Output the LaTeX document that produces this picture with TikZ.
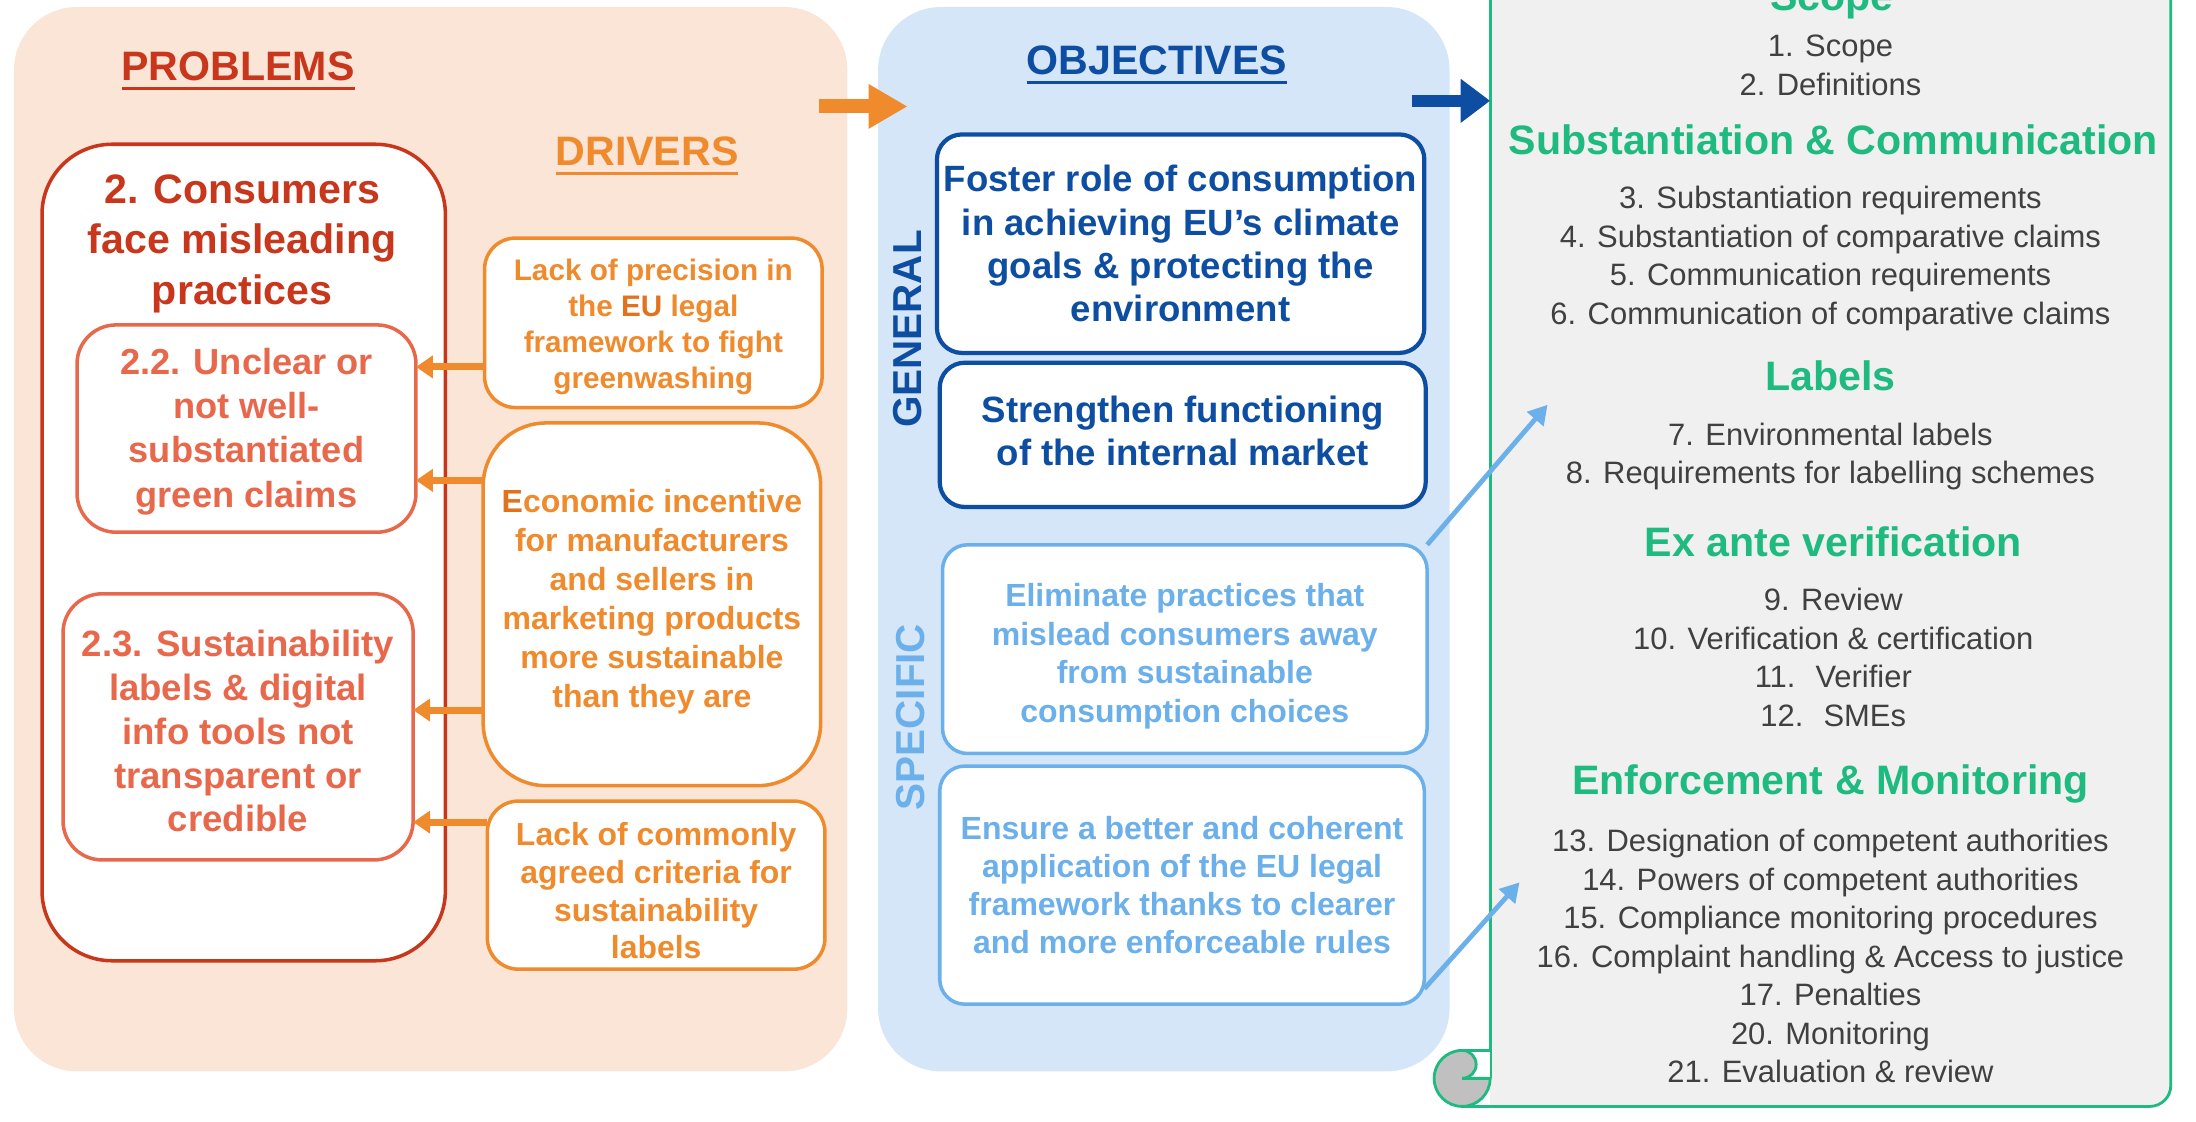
\documentclass[tikz,border=0pt]{standalone}
\usepackage{fontspec}
\setmainfont{Liberation Sans}
\usetikzlibrary{arrows.meta}
\definecolor{peach}{HTML}{FBE5D6}
\definecolor{objbg}{HTML}{D4E6F7}
\definecolor{dred}{HTML}{C8361C}
\definecolor{salmon}{HTML}{E8684C}
\definecolor{orng}{HTML}{EF8B2D}
\definecolor{orngd}{HTML}{E2721C}
\definecolor{dblue}{HTML}{0D4EA3}
\definecolor{lblue}{HTML}{6BB0EB}
\definecolor{grn}{HTML}{1FBA80}
\definecolor{itemgray}{HTML}{404040}
\definecolor{pgray}{HTML}{F0F0F0}
\definecolor{cgray}{HTML}{C0C0C0}
\newcommand{\myul}[1]{\setbox0\hbox{#1}\rlap{\rule[-0.22em]{\wd0}{0.07em}}\box0}
\begin{document}
\begin{tikzpicture}[x=0.14mm,y=-0.14mm,
  every node/.style={inner sep=0pt,outer sep=0pt},
  tbox/.style={draw=#1,text=#1,fill=white,align=center,line width=1pt},
  ghead/.style={text=grn,font=\fontsize{11.7}{14}\selectfont\bfseries,anchor=base},
  item/.style={text=itemgray,font=\fontsize{8.8}{10.96}\selectfont,align=center,anchor=north},
  oarr/.style={draw=orng,line width=0.7mm,-{Triangle[length=1.7mm,width=2.2mm]}},
  barr/.style={draw=lblue,line width=0.48mm,-{Triangle[length=1.9mm,width=2.1mm]}},
  phead/.style={font=\fontsize{11.7}{14}\selectfont\bfseries,anchor=base}]
\useasboundingbox (0,0) rectangle (1568,801);
\clip (0,0) rectangle (1568,801);

% panels
\node[fill=peach,rounded corners=6.3mm,minimum width=83.3mm,minimum height=106.4mm] (probpanel) at (307.5,385) {};
\node[fill=objbg,rounded corners=6.3mm,minimum width=57.12mm,minimum height=106.4mm] (objpanel) at (831,385) {};

% right scroll panel
\fill[pgray,rounded corners=2.1mm] (1064,790) -- (1550,790) -- (1550,-60) -- (1064,-60) -- (1064,790);
\draw[grn,line width=0.8pt,rounded corners=2.1mm] (1044,790) -- (1550,790) -- (1550,-60);
\draw[grn,line width=0.8pt] (1064,-60) -- (1064,770);
\fill[cgray] (1044,770) circle[radius=20];
\fill[white] (1044,750) rectangle (1064,770);
\fill[cgray] (1044,750) arc[start angle=-90,end angle=90,radius=10] -- cycle;
\draw[grn,line width=0.8pt] (1044,750) arc[start angle=-90,end angle=-360,radius=20] -- (1044,770);
\draw[grn,line width=0.8pt] (1044,750) -- (1064,750);
\draw[grn,line width=0.8pt] (1044,750) arc[start angle=-90,end angle=90,radius=10];

% headings
\node[phead,text=dred] (probhead) at (170,57.5) {\myul{PROBLEMS}};
\node[phead,text=orng] (drvhead) at (462,118.5) {\myul{DRIVERS}};
\node[phead,text=dblue] (objhead) at (826,53.5) {\myul{OBJECTIVES}};

% problems
\node[draw=dred,line width=1pt,fill=white,rounded corners=7mm,minimum width=40.32mm,minimum height=81.62mm] (bigprob) at (174,394.5) {};
\node[text=dred,font=\fontsize{11.7}{14.34}\selectfont\bfseries,align=center] (bigtitle) at (173,174) {2. Consumers\\face misleading\\practices};
\node[tbox=salmon,rounded corners=3.9mm,minimum width=33.88mm,minimum height=20.72mm,font=\fontsize{10.3}{12.6}\selectfont\bfseries] (p22) at (176,306) {\rule{0pt}{9.1pt}2.2. Unclear or\\not well-\\substantiated\\green claims};
\node[tbox=salmon,rounded corners=3.9mm,minimum width=35mm,minimum height=26.6mm,font=\fontsize{10.4}{12.45}\selectfont\bfseries] (p23) at (170,519) {\rule{0pt}{10pt}2.3. Sustainability\\labels \& digital\\info tools not\\transparent or\\credible};

% drivers
\node[tbox=orng,rounded corners=3.1mm,minimum width=33.74mm,minimum height=16.94mm,font=\fontsize{8.45}{10.24}\selectfont\bfseries] (d1) at (466.5,230.5) {\rule{0pt}{8.2pt}Lack of precision in\\the \textcolor{orngd}{EU} legal\\framework to fight\\greenwashing};
\node[tbox=orng,rounded corners=6.3mm,minimum width=33.74mm,minimum height=36.26mm,font=\fontsize{9.1}{11.08}\selectfont\bfseries] (d2) at (465.5,431.5) {\textcolor{orngd}{E}conomic incentive\\for manufacturers\\and sellers in\\marketing products\\more sustainable\\than they are\rule[-3.5pt]{0pt}{0pt}};
\node[tbox=orng,rounded corners=3.1mm,minimum width=33.74mm,minimum height=16.8mm,font=\fontsize{9.08}{10.76}\selectfont\bfseries] (d3) at (468.5,632) {\rule{0pt}{9.8pt}Lack of commonly\\agreed criteria for\\sustainability\\labels};

\draw[oarr] (d1.west |- 0,262) -- (p22.east |- 0,262);
\draw[oarr] (d2.west |- 0,343) -- (p22.east |- 0,343);
\draw[oarr] (d2.west |- 0,507) -- (p23.east |- 0,507);
\draw[oarr] (d3.west |- 0,587) -- (p23.east |- 0,587);

% objectives
\node[rotate=90,text=dblue,font=\fontsize{11.5}{13}\selectfont\bfseries] (genlab) at (648,235) {GENERAL};
\node[rotate=90,text=lblue,font=\fontsize{11.5}{13}\selectfont\bfseries] (speclab) at (650,512) {SPECIFIC};
\node[tbox=dblue,line width=1.2pt,rounded corners=2.5mm,minimum width=48.72mm,minimum height=21.84mm,font=\fontsize{10.4}{12.35}\selectfont\bfseries] (g1) at (843,174) {Foster role of consumption\\in achieving EU’s climate\\goals \& protecting the\\environment};
\node[tbox=dblue,line width=1.2pt,rounded corners=2.5mm,minimum width=48.58mm,minimum height=14.42mm,font=\fontsize{10.4}{12.35}\selectfont\bfseries] (g2) at (844.5,310.5) {Strengthen functioning\\of the internal market\rule[-2.4pt]{0pt}{0pt}};
\node[tbox=lblue,rounded corners=2.5mm,minimum width=48.44mm,minimum height=20.86mm,font=\fontsize{9.1}{11.04}\selectfont\bfseries] (s1) at (846,463.5) {\rule{0pt}{10.6pt}Eliminate practices that\\mislead consumers away\\from sustainable\\consumption choices};
\node[tbox=lblue,rounded corners=2.5mm,minimum width=48.44mm,minimum height=23.8mm,font=\fontsize{9.1}{10.76}\selectfont\bfseries] (s2) at (844,632) {Ensure a better and coherent\\application of the EU legal\\framework thanks to clearer\\and more enforceable rules};

% big arrows
\coordinate (oaS) at (585,76);
\coordinate (oaE) at (648,76);
\draw[orng,line width=1.4mm,-{Triangle[length=3.9mm,width=4.2mm]}] (oaS) -- (oaE);
\coordinate (baS) at (1008,72);
\coordinate (baE) at (1064,72);
\draw[dblue,line width=1.26mm,-{Triangle[length=2.94mm,width=4.2mm]}] (baS) -- (baE);

% right panel text
\node[ghead] (h1) at (1308,7.5) {Scope};
\node[item] (it1) at (1307,25) {1. Scope\\2. Definitions};
\node[ghead] (h2) at (1309,110.5) {Substantiation \& Communication};
\node[item] (it2) at (1307,133) {3. Substantiation requirements\\4. Substantiation of comparative claims\\5. Communication requirements\\6. Communication of comparative claims};
\node[ghead] (h3) at (1307,278.5) {Labels};
\node[item] (it3) at (1307,302) {7. Environmental labels\\8. Requirements for labelling schemes};
\node[ghead] (h4) at (1309,397.5) {Ex ante verification};
\node[item] (it4) at (1309,420) {9. Review\\10. Verification \& certification\\11.~ Verifier\\12.~ SMEs};
\node[ghead] (h5) at (1307,567.5) {Enforcement \& Monitoring};
\node[item] (it5) at (1307,592) {13. Designation of competent authorities\\14. Powers of competent authorities\\15. Compliance monitoring procedures\\16. Complaint handling \& Access to justice\\17. Penalties\\20. Monitoring\\21. Evaluation \& review};

% light blue arrows
\coordinate (lab1) at (1105,289);
\coordinate (lab2) at (1085,630);
\draw[barr] (s1.north east) -- (lab1);
\draw[barr] (s2.east |- 0,706) -- (lab2);
\end{tikzpicture}
\end{document}
